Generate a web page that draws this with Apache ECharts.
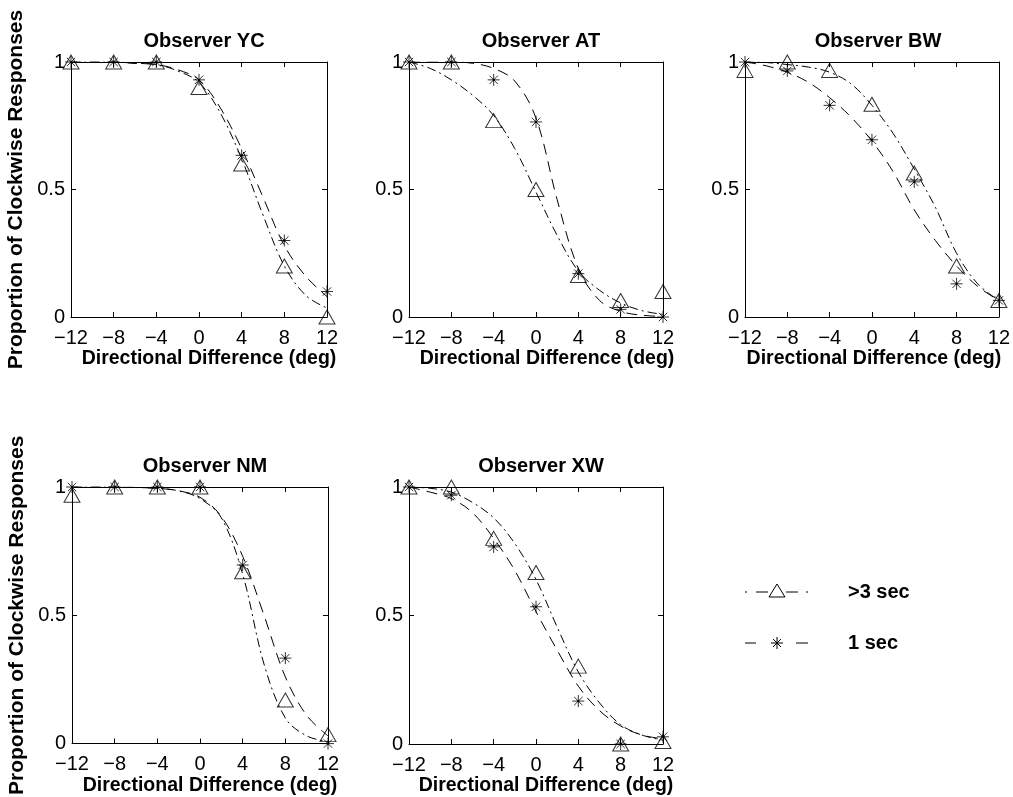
<!DOCTYPE html>
<html>
<head>
<meta charset="utf-8">
<script src="https://cdn.jsdelivr.net/npm/echarts@6/dist/echarts.min.js"></script>
<style>
  html, body { margin: 0; padding: 0; background: #fff; }
  #chart { width: 1013px; height: 797px; }
</style>
</head>
<body>
<div id="chart"></div>
<script>
// tested directions and fitted-curve sample directions (deg)
const xPoints = [-12, -8, -4, 0, 4, 8, 12];
const xCurve = [-12, -10, -8, -6, -4, -2, 0, 2, 4, 6, 8, 10, 12];

// observed proportions: long (>3 sec) = triangles, short (1 sec) = stars
const ycLong = [1, 1, 1, 0.9, 0.6, 0.2, 0.0];
const ycShort = [1, 1, 1, 0.93, 0.634, 0.3, 0.1];
const atLong = [1, 1, 0.77, 0.5, 0.163, 0.065, 0.1];
const atShort = [1, 1, 0.93, 0.765, 0.17, 0.03, 0.0];
const bwLong = [0.967, 1, 0.967, 0.834, 0.565, 0.2, 0.065];
const bwShort = [1, 0.965, 0.83, 0.695, 0.53, 0.13, 0.065];
const nmLong = [0.968, 1, 1, 1, 0.67, 0.17, 0.035];
const nmShort = [1, 1, 1, 1, 0.696, 0.333, 0.0];
const xwLong = [1, 1, 0.8, 0.667, 0.303, 0.0, 0.01];
const xwShort = [1, 0.968, 0.767, 0.534, 0.167, 0.0, 0.028];

// fitted psychometric curves at xCurve
const ycLongFit = [1, 1, 1, 0.995, 0.99, 0.965, 0.92, 0.8, 0.62, 0.4, 0.2, 0.085, 0.035];
const ycShortFit = [1, 1, 1, 0.995, 0.99, 0.97, 0.93, 0.82, 0.66, 0.47, 0.28, 0.16, 0.08];
const atLongFit = [1, 0.975, 0.93, 0.87, 0.79, 0.66, 0.49, 0.32, 0.18, 0.105, 0.055, 0.025, 0.01];
const atShortFit = [1, 1, 1, 0.995, 0.975, 0.925, 0.78, 0.46, 0.19, 0.065, 0.022, 0.007, 0.002];
const bwLongFit = [1, 0.998, 0.99, 0.98, 0.96, 0.915, 0.83, 0.72, 0.58, 0.43, 0.25, 0.13, 0.065];
const bwShortFit = [1, 0.985, 0.96, 0.92, 0.86, 0.785, 0.69, 0.57, 0.42, 0.3, 0.2, 0.12, 0.065];
const nmLongFit = [1, 1, 1, 0.998, 0.995, 0.985, 0.955, 0.88, 0.66, 0.31, 0.1, 0.03, 0.008];
const nmShortFit = [1, 1, 1, 0.998, 0.995, 0.985, 0.96, 0.885, 0.73, 0.5, 0.26, 0.11, 0.03];
const xwLongFit = [1, 0.995, 0.98, 0.94, 0.88, 0.78, 0.64, 0.455, 0.28, 0.16, 0.075, 0.035, 0.015];
const xwShortFit = [1, 0.98, 0.955, 0.9, 0.8, 0.675, 0.515, 0.365, 0.225, 0.13, 0.07, 0.035, 0.02];

const panelNames = ['Observer YC', 'Observer AT', 'Observer BW', 'Observer NM', 'Observer XW'];
const longSets = [ycLong, atLong, bwLong, nmLong, xwLong];
const shortSets = [ycShort, atShort, bwShort, nmShort, xwShort];
const longFits = [ycLongFit, atLongFit, bwLongFit, nmLongFit, xwLongFit];
const shortFits = [ycShortFit, atShortFit, bwShortFit, nmShortFit, xwShortFit];

// plot boxes [left, top, width, height]
const boxes = [
  [71, 62, 256, 255],
  [409, 62, 254, 255],
  [745, 62, 256, 255],
  [72, 487, 256, 257],
  [409, 487, 254, 257],
];
// x-axis name sits a little right of centre in the original
const nameShift = [10, 11, 2, 10, 10];

const FONT = "'Liberation Sans', Arial, Helvetica, sans-serif";
const BLACK = '#000';
const DASH_DOT = [9, 4, 2, 4];
const DASHED = [11, 7];
const STAR = 'path://M10,0 L10,20 M0,10 L20,10 M3,3 L17,17 M3,17 L17,3 M9,9 L11,9 L11,11 L9,11 Z';

const zip = (xs, ys) => xs.map((x, i) => [x, ys[i]]);
const minus = (v) => String(v).replace('-', '\u2212');

const chart = echarts.init(document.getElementById('chart'), null, { renderer: 'canvas' });

const grid = boxes.map(([left, top, width, height]) => ({ left, top, width, height, containLabel: false }));

const tickStyle = { show: true, inside: true, length: 5, lineStyle: { color: BLACK, width: 1 } };
const lineStyle = { show: true, onZero: false, lineStyle: { color: BLACK, width: 1 } };

const xBottom = boxes.map((b, i) => ({
  type: 'value', gridIndex: i, position: 'bottom',
  min: -12, max: 12, interval: 4,
  axisLine: lineStyle, axisTick: tickStyle, splitLine: { show: false },
  axisLabel: { color: BLACK, fontSize: 20, fontFamily: FONT, margin: 11, formatter: minus },
  name: 'Directional Difference (deg)', nameLocation: 'middle', nameGap: 31,
  nameTextStyle: {
    color: BLACK, fontSize: 19.5, fontWeight: 'bold', fontFamily: FONT,
    padding: [0, 0, 0, nameShift[i] * 2],
  },
}));
const xTop = boxes.map((b, i) => ({
  type: 'value', gridIndex: i, position: 'top',
  min: -12, max: 12, interval: 4,
  axisLine: lineStyle, axisTick: tickStyle, splitLine: { show: false },
  axisLabel: { show: false },
}));
const yLeft = boxes.map((b, i) => ({
  type: 'value', gridIndex: i, position: 'left',
  min: 0, max: 1, interval: 0.5,
  axisLine: lineStyle, axisTick: tickStyle, splitLine: { show: false },
  axisLabel: { color: BLACK, fontSize: 20, fontFamily: FONT, margin: 6 },
  name: (i === 0 || i === 3) ? 'Proportion of Clockwise Responses' : '',
  nameLocation: 'middle', nameGap: 44, nameRotate: 90,
  nameTextStyle: { color: BLACK, fontSize: 21, fontWeight: 'bold', fontFamily: FONT },
}));
const yRight = boxes.map((b, i) => ({
  type: 'value', gridIndex: i, position: 'right',
  min: 0, max: 1, interval: 0.5,
  axisLine: lineStyle, axisTick: tickStyle, splitLine: { show: false },
  axisLabel: { show: false },
}));

const series = [];
boxes.forEach((b, i) => {
  series.push({
    type: 'line', xAxisIndex: i, yAxisIndex: i,
    data: zip(xCurve, longFits[i]), smooth: 0.35, showSymbol: false,
    lineStyle: { color: BLACK, width: 1, type: DASH_DOT }, silent: true,
  });
  series.push({
    type: 'line', xAxisIndex: i, yAxisIndex: i,
    data: zip(xCurve, shortFits[i]), smooth: 0.35, showSymbol: false,
    lineStyle: { color: BLACK, width: 1, type: DASHED }, silent: true,
  });
  series.push({
    type: 'scatter', xAxisIndex: i, yAxisIndex: i, clip: false,
    data: zip(xPoints, longSets[i]), symbol: 'triangle', symbolSize: [16, 14],
    itemStyle: { color: 'rgba(0,0,0,0)', borderColor: BLACK, borderWidth: 1 }, z: 3,
  });
  series.push({
    type: 'scatter', xAxisIndex: i, yAxisIndex: i, clip: false,
    data: zip(xPoints, shortSets[i]), symbol: STAR, symbolSize: 12,
    itemStyle: { color: BLACK, borderColor: BLACK, borderWidth: 1 }, z: 4,
  });
});

const title = boxes.map(([left, top, width], i) => ({
  text: panelNames[i],
  left: left + width / 2, top: top - 36, textAlign: 'center',
  textStyle: { color: BLACK, fontSize: 20, fontWeight: 'bold', fontFamily: FONT },
}));

// legend drawn beside the empty sixth panel
const seg = (x1, y1, x2, y2) => ({
  type: 'line', shape: { x1, y1, x2, y2 }, style: { stroke: BLACK, lineWidth: 1 },
});
const legendGraphic = [
  seg(745, 592, 747, 592),
  seg(756, 592, 768, 592),
  seg(786, 592, 798, 592),
  seg(806, 592, 808, 592),
  { type: 'polygon', shape: { points: [[777, 584], [769, 597], [785, 597]] },
    style: { fill: '#fff', stroke: BLACK, lineWidth: 1 } },
  { type: 'text', left: 848, top: 582,
    style: { text: '>3 sec', fill: BLACK, font: 'bold 20px ' + FONT } },
  seg(745, 643, 756, 643),
  seg(796, 643, 808, 643),
  seg(777, 637, 777, 649),
  seg(771, 643, 783, 643),
  seg(773, 639, 781, 647),
  seg(773, 647, 781, 639),
  { type: 'text', left: 848, top: 633,
    style: { text: '1 sec', fill: BLACK, font: 'bold 20px ' + FONT } },
];

chart.setOption({
  animation: false,
  backgroundColor: '#fff',
  title,
  grid,
  xAxis: [...xBottom, ...xTop],
  yAxis: [...yLeft, ...yRight],
  series,
  graphic: legendGraphic,
});
</script>
</body>
</html>
